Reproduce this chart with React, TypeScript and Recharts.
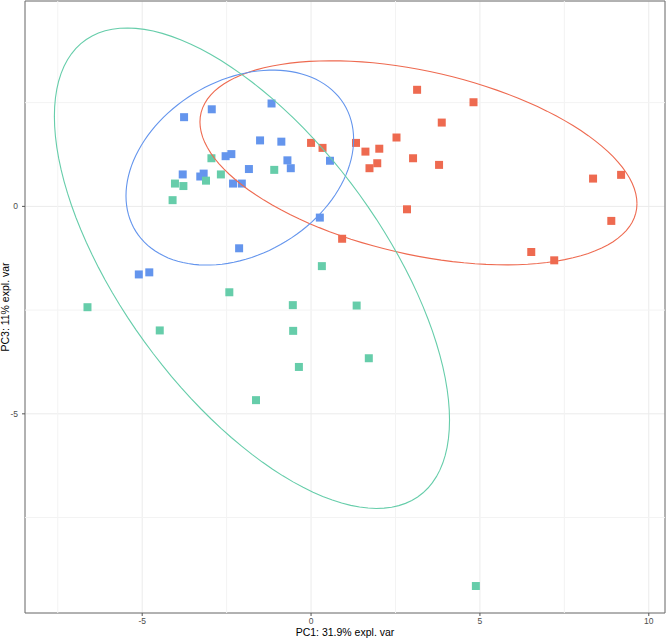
import React from 'react';
import {
  ScatterChart,
  Scatter,
  XAxis,
  YAxis,
  ZAxis,
  CartesianGrid,
  ReferenceLine,
  ReferenceArea,
  Label,
} from 'recharts';

// ---- point data (PC1, PC3) ----
const redX = [0.0, 0.34, 1.33, 1.61, 2.02, 1.73, 1.96, 2.53, 3.14, 4.81, 3.87, 3.02, 3.79, 2.84, 0.92, 8.35, 9.18, 8.89, 6.52, 7.2];
const redY = [1.53, 1.41, 1.53, 1.32, 1.39, 0.92, 1.04, 1.66, 2.81, 2.51, 2.02, 1.16, 1.0, -0.07, -0.78, 0.67, 0.76, -0.35, -1.1, -1.3];
const blueX = [-3.76, -2.94, -1.17, -1.51, -0.88, -2.53, -2.36, -0.7, -0.6, -1.84, 0.56, -3.8, -3.18, -3.28, -2.31, -2.05, 0.26, -2.13, -5.1, -4.79];
const blueY = [2.15, 2.34, 2.48, 1.59, 1.56, 1.21, 1.26, 1.11, 0.92, 0.9, 1.1, 0.77, 0.79, 0.72, 0.55, 0.55, -0.27, -1.01, -1.64, -1.59];
const greenX = [-2.95, -2.67, -3.11, -1.09, -4.03, -3.78, -4.1, 0.32, -2.42, -0.54, -6.62, 1.35, -4.48, -0.53, -0.36, -1.63, 1.71, 4.88];
const greenY = [1.16, 0.77, 0.62, 0.88, 0.55, 0.49, 0.15, -1.44, -2.07, -2.38, -2.43, -2.39, -2.99, -3.0, -3.87, -4.67, -3.66, -9.15];

// ---- ellipse parameters: [red, blue, green] ----
const ellipseCenterX = [3.18, -2.11, -1.75];
const ellipseCenterY = [1.05, 0.935, -1.49];
const ellipseHalfX = [6.47, 3.37, 5.85];
const ellipseHalfY = [2.46, 2.35, 5.79];
const ellipseCorr = [-0.4, 0.29, -0.632];

// ---- axes ----
const xTicks = [-5, 0, 5, 10];
const yTicks = [-5, 0];
const xMinor = [-7.5, -2.5, 2.5, 7.5];
const yMinor = [2.5, -2.5, -7.5];
const xDomain: [number, number] = [-8.47, 10.48];
const yDomain: [number, number] = [-9.8, 4.95];
const xTitle = 'PC1: 31.9% expl. var';
const yTitle = 'PC3: 11% expl. var';

const colors = ['#EE6A50', '#6495ED', '#66CDAA'];

const toPts = (xs: number[], ys: number[]) => xs.map((x, i) => ({ x, y: ys[i] }));
const redPts = toPts(redX, redY);
const bluePts = toPts(blueX, blueY);
const greenPts = toPts(greenX, greenY);

const ellipse = (k: number) => {
  const n = 120;
  const out: { x: number; y: number }[] = [];
  const r = ellipseCorr[k];
  const s = Math.sqrt(1 - r * r);
  for (let i = 0; i <= n; i++) {
    const t = (2 * Math.PI * i) / n;
    out.push({
      x: ellipseCenterX[k] + ellipseHalfX[k] * Math.cos(t),
      y: ellipseCenterY[k] + ellipseHalfY[k] * (r * Math.cos(t) + s * Math.sin(t)),
    });
  }
  return out;
};

const ellipses = [ellipse(0), ellipse(1), ellipse(2)];

const NoShape = () => <g />;

const font = '"Liberation Sans", Arial, Helvetica, sans-serif';
const tickStyle = { fontSize: 8.5, fill: '#4D4D4D', fontFamily: font };

export default function App() {
  return (
    <div style={{ position: 'absolute', left: 0, top: 0, background: '#fff' }}>
      <ScatterChart
        width={666}
        height={639}
        margin={{ top: 1, right: 1, bottom: 0, left: 0 }}
      >
        <CartesianGrid stroke="#EBEBEB" strokeWidth={1} />
        {xMinor.map((v) => (
          <ReferenceLine key={'xm' + v} x={v} stroke="#F3F3F3" strokeWidth={1} />
        ))}
        {yMinor.map((v) => (
          <ReferenceLine key={'ym' + v} y={v} stroke="#F3F3F3" strokeWidth={1} />
        ))}
        <XAxis
          type="number"
          dataKey="x"
          domain={xDomain}
          allowDataOverflow
          ticks={xTicks}
          height={26}
          tickSize={3}
          tickMargin={2}
          axisLine={false}
          tickLine={{ stroke: '#555' }}
          tick={tickStyle}
        >
          <Label
            value={xTitle}
            position="insideBottom"
            offset={3}
            style={{ fontSize: 10.5, fill: '#000', fontFamily: font }}
          />
        </XAxis>
        <YAxis
          type="number"
          dataKey="y"
          domain={yDomain}
          allowDataOverflow
          ticks={yTicks}
          width={25}
          tickSize={3}
          tickMargin={4}
          axisLine={false}
          tickLine={{ stroke: '#555' }}
          tick={tickStyle}
        >
          <Label
            content={(props: any) => {
              const vb = props.viewBox || { x: 0, y: 1, width: 25, height: 612 };
              const cx = vb.x + 8.5;
              const cy = vb.y + vb.height / 2;
              return (
                <text
                  x={cx}
                  y={cy}
                  transform={`rotate(-90 ${cx} ${cy})`}
                  textAnchor="middle"
                  style={{ fontSize: 10.5, fill: '#000', fontFamily: font }}
                >
                  {yTitle}
                </text>
              );
            }}
          />
        </YAxis>
        <ZAxis type="number" range={[52, 52]} />
        <Scatter data={redPts} fill={colors[0]} shape="square" isAnimationActive={false} />
        <Scatter data={bluePts} fill={colors[1]} shape="square" isAnimationActive={false} />
        <Scatter data={greenPts} fill={colors[2]} shape="square" isAnimationActive={false} />
        {ellipses.map((pts, k) => (
          <Scatter
            key={'el' + k}
            data={pts}
            fill={colors[k]}
            line={{ stroke: colors[k], strokeWidth: 1.1 }}
            shape={NoShape}
            isAnimationActive={false}
          />
        ))}
        <ReferenceArea
          x1={xDomain[0]}
          x2={xDomain[1]}
          y1={yDomain[0]}
          y2={yDomain[1]}
          fill="none"
          stroke="#6E6E6E"
          strokeWidth={1}
          ifOverflow="visible"
        />
      </ScatterChart>
    </div>
  );
}
